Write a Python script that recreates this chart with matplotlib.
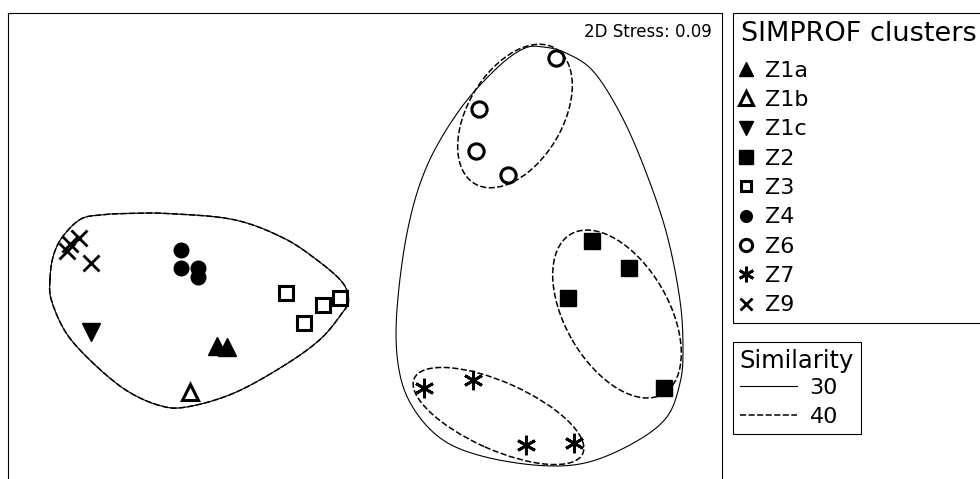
import numpy as np
import matplotlib.pyplot as plt
from matplotlib.lines import Line2D
from matplotlib.patches import Ellipse

plt.rcParams['font.family'] = ['DejaVu Sans']

# nMDS scores of the samples and their SIMPROF cluster
cluster = ['Z1a', 'Z1a', 'Z1b', 'Z1c',
           'Z2', 'Z2', 'Z2', 'Z2',
           'Z3', 'Z3', 'Z3', 'Z3',
           'Z4', 'Z4', 'Z4', 'Z4',
           'Z6', 'Z6', 'Z6', 'Z6',
           'Z7', 'Z7', 'Z7', 'Z7',
           'Z9', 'Z9', 'Z9', 'Z9']
mds1 = [-0.99, -0.92, -1.17, -1.83,
        1.51, 1.76, 1.35, 1.99,
        -0.53, -0.17, -0.28, -0.41,
        -1.23, -1.23, -1.11, -1.11,
        1.27, 0.76, 0.74, 0.95,
        0.39, 0.72, 1.07, 1.39,
        -1.91, -1.97, -1.99, -1.83]
mds2 = [-0.67, -0.68, -0.98, -0.58,
        0.03, -0.15, -0.35, -0.95,
        -0.32, -0.35, -0.40, -0.52,
        -0.03, -0.15, -0.15, -0.21,
        1.25, 0.91, 0.63, 0.47,
        -0.95, -0.90, -1.33, -1.32,
        0.05, 0.01, -0.04, -0.12]
cluster_order = ['Z1a', 'Z1b', 'Z1c', 'Z2', 'Z3', 'Z4', 'Z6', 'Z7', 'Z9']
stress = 0.09

# similarity contours (outline points, nMDS units)
left_x = [-2.10, -2.08, -2.02, -1.90, -1.77, -1.59, -1.32, -0.88, -0.55, -0.32, -0.15,
          -0.11, -0.15, -0.30, -0.55, -0.88, -1.19, -1.37, -1.59, -1.81, -1.99, -2.09]
left_y = [-0.23, -0.08, 0.05, 0.17, 0.20, 0.21, 0.21, 0.17, 0.05, -0.10, -0.25,
          -0.37, -0.45, -0.63, -0.81, -0.99, -1.08, -1.07, -0.97, -0.79, -0.59, -0.37]
right_x = [1.06, 1.19, 1.34, 1.52, 1.70, 1.86, 2.01, 2.10, 2.12, 2.10, 2.01, 1.79,
           1.48, 1.17, 0.79, 0.52, 0.33, 0.23, 0.21, 0.28, 0.41, 0.63, 0.88]
right_y = [1.31, 1.32, 1.28, 1.16, 0.88, 0.52, 0.08, -0.37, -0.70, -0.92, -1.15, -1.32,
           -1.45, -1.47, -1.41, -1.30, -1.10, -0.85, -0.48, 0.08, 0.52, 0.90, 1.18]
# 40% groups on the right: centre, width, height, angle
ell_x = [1.00, 1.68, 0.89]
ell_y = [0.86, -0.46, -1.14]
ell_w = [1.05, 1.23, 1.23]
ell_h = [0.63, 0.69, 0.45]
ell_a = [59, -60, -24]

styles = {
    'Z1a': dict(marker='^', ms=13, mfc='k', mec='k', mew=1),
    'Z1b': dict(marker='^', ms=12, mfc='none', mec='k', mew=2.2),
    'Z1c': dict(marker='v', ms=13, mfc='k', mec='k', mew=1),
    'Z2': dict(marker='s', ms=12, mfc='k', mec='k', mew=1),
    'Z3': dict(marker='s', ms=9.5, mfc='none', mec='k', mew=2.2),
    'Z4': dict(marker='o', ms=10.5, mfc='k', mec='k', mew=1),
    'Z6': dict(marker='o', ms=11, mfc='none', mec='k', mew=2.2),
    'Z7': dict(marker=(6, 2, 0), ms=14, mec='k', mew=2.0),
    'Z9': dict(marker='x', ms=11, mec='k', mew=2.0),
}
dash = (0, (4, 1.6))


def smooth_closed(xs, ys, n=40):
    # closed Catmull-Rom spline through the outline points
    p = np.column_stack([xs, ys])
    t = np.linspace(0, 1, n, endpoint=False)[:, None]
    segs = []
    for i in range(len(p)):
        p0, p1, p2, p3 = p[i - 1], p[i], p[(i + 1) % len(p)], p[(i + 2) % len(p)]
        segs.append(0.5 * (2 * p1 + (p2 - p0) * t
                           + (2 * p0 - 5 * p1 + 4 * p2 - p3) * t ** 2
                           + (3 * p1 - p0 - 3 * p2 + p3) * t ** 3))
    c = np.vstack(segs + [p[:1]])
    return c[:, 0], c[:, 1]


fig = plt.figure(figsize=(9.8, 4.79), dpi=100)
ax = fig.add_axes([8 / 980, -5 / 479, 714 / 980, 471 / 479])

lx, ly = smooth_closed(left_x, left_y)
rx, ry = smooth_closed(right_x, right_y)
ax.plot(lx, ly, color='k', lw=0.8, zorder=1)
ax.plot(lx, ly, color='k', lw=1.1, ls=dash, zorder=1)
ax.plot(rx, ry, color='k', lw=0.8, zorder=1)
for x, y, w, h, a in zip(ell_x, ell_y, ell_w, ell_h, ell_a):
    ax.add_patch(Ellipse((x, y), w, h, angle=a, fill=False, ec='k', lw=1.1,
                         ls=dash, zorder=1))

mds1 = np.array(mds1)
mds2 = np.array(mds2)
cluster = np.array(cluster)
handles = []
for name in cluster_order:
    sel = cluster == name
    line, = ax.plot(mds1[sel], mds2[sel], ls='none', label=name, zorder=3,
                    **styles[name])
    handles.append(line)

ax.text(0.986, 0.978, f'2D Stress: {stress:.2f}', transform=ax.transAxes,
        ha='right', va='top', fontsize=12)

ax.set_xlim(-2.38, 2.38)
ax.set_ylim(-1.5933, 1.5467)
ax.set_xticks([])
ax.set_yticks([])
for s in ax.spines.values():
    s.set_linewidth(0.8)

leg1 = fig.legend(handles=handles, title='SIMPROF clusters', loc='upper left',
                  bbox_to_anchor=(733 / 980, 1 - 13 / 479), borderaxespad=0,
                  fontsize=16, title_fontsize=19.5, alignment='left',
                  fancybox=False, edgecolor='k', framealpha=1,
                  markerscale=0.8, handlelength=0.5, handletextpad=0.6,
                  labelspacing=0.42, borderpad=0.35)
leg1.get_frame().set_linewidth(0.8)
leg1._legend_box.sep = 10

sim_handles = [Line2D([], [], color='k', lw=0.8, label='30'),
               Line2D([], [], color='k', lw=1.1, ls=dash, label='40')]
leg2 = fig.legend(handles=sim_handles, title='Similarity', loc='upper left',
                  bbox_to_anchor=(733 / 980, 1 - 342 / 479), borderaxespad=0,
                  fontsize=16, title_fontsize=17.5, alignment='left',
                  fancybox=False, edgecolor='k', framealpha=1,
                  handlelength=2.6, handletextpad=0.55,
                  labelspacing=0.4, borderpad=0.3)
leg2.get_frame().set_linewidth(0.8)
leg2._legend_box.sep = 4

fig.savefig('out.png', dpi=100)
